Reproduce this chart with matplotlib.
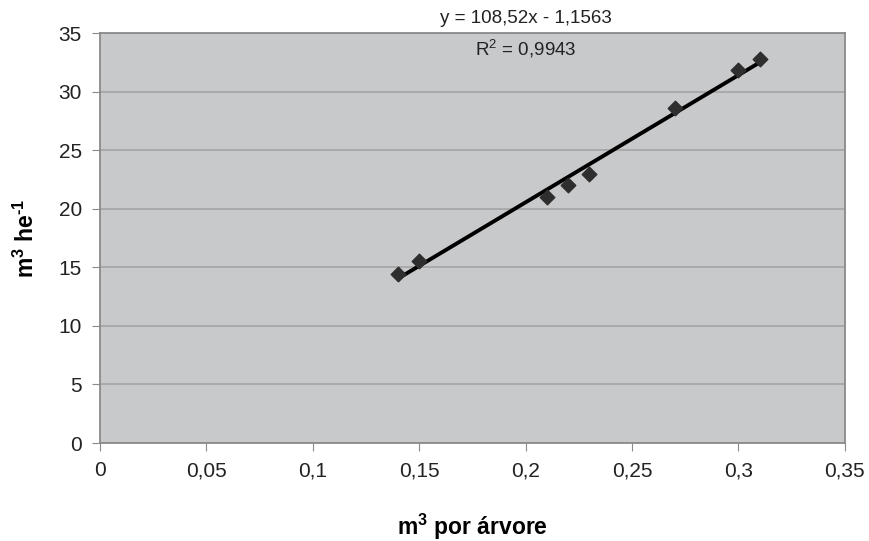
import matplotlib
matplotlib.use("Agg")
import matplotlib.pyplot as plt
import numpy as np

plt.rcParams['font.family'] = ['Liberation Sans', 'DejaVu Sans']
plt.rcParams['mathtext.fontset'] = 'custom'
plt.rcParams['mathtext.rm'] = 'Liberation Sans'
plt.rcParams['mathtext.bf'] = 'Liberation Sans:bold'

# volume per tree vs volume per hectare
m3_arvore = [0.14, 0.15, 0.21, 0.22, 0.23, 0.27, 0.30, 0.31]
m3_ha = [14.4, 15.5, 21.0, 22.0, 23.0, 28.6, 31.8, 32.8]

# trend line as reported on the chart
slope = 108.52
intercept = -1.1563
r2 = 0.9943

xticks = [0, 0.05, 0.1, 0.15, 0.2, 0.25, 0.3, 0.35]
yticks = [0, 5, 10, 15, 20, 25, 30, 35]

fig = plt.figure(figsize=(8.7, 5.41), dpi=100)
ax = fig.add_axes([0.115, 0.181, 0.856, 0.758])
ax.set_facecolor('#c8c9cb')

ax.set_xlim(0, 0.35)
ax.set_ylim(0, 35)
ax.set_xticks(xticks)
ax.set_xticklabels([('%g' % v).replace('.', ',') for v in xticks])
ax.set_yticks(yticks)
ax.set_yticklabels([str(v) for v in yticks])
ax.tick_params(direction='out', length=6, color='#8a8a8a', labelcolor='#222222',
               labelsize=15, pad=7)
ax.grid(axis='y', color='#a4a4a4', linewidth=1.2)
ax.set_axisbelow(True)
for s in ax.spines.values():
    s.set_color('#8a8a8a')
    s.set_linewidth(1.3)

xl = np.array([min(m3_arvore), max(m3_arvore)])
ax.plot(xl, slope * xl + intercept, color='black', linewidth=2.8, zorder=3)
ax.scatter(m3_arvore, m3_ha, marker='D', s=55, color='#2e2e2e', zorder=4)

eq = 'y = %sx - %s' % (('%.2f' % slope).replace('.', ','),
                       ('%.4f' % -intercept).replace('.', ','))
ax.text(0.2, 36.2, eq, ha='center', va='center', fontsize=13.5,
        color='#222222', clip_on=False)
ax.text(0.2, 33.7, 'R$^2$ = ' + ('%.4f' % r2).replace('.', ','),
        ha='center', va='center', fontsize=13.5, color='#222222')

ax.set_xlabel('m$^\\mathbf{3}$ por árvore', fontsize=16.5, fontweight='bold', labelpad=23)
ax.set_ylabel('m$^\\mathbf{3}$ he$^\\mathbf{\u2010 1}$', fontsize=16.5, fontweight='bold', labelpad=14)

fig.savefig('out.png', dpi=100)
